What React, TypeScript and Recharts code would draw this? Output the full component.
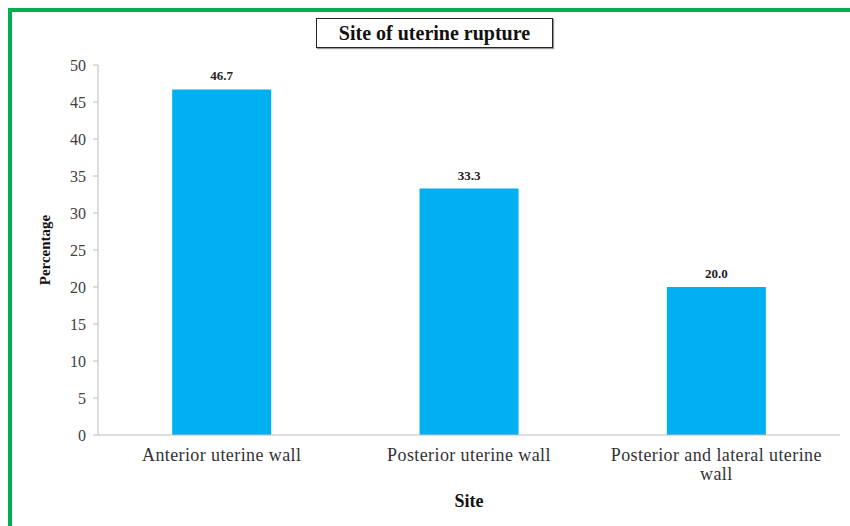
import React from 'react';
import { BarChart, Bar, XAxis, YAxis, LabelList, Label } from 'recharts';

const sites = ['Anterior uterine wall', 'Posterior uterine wall', 'Posterior and lateral uterine wall'];
const percentages = [46.7, 33.3, 20.0];
const yTicks = [0, 5, 10, 15, 20, 25, 30, 35, 40, 45, 50];

const data = sites.map((site, i) => ({ site, value: percentages[i] }));

const serif = '"Liberation Serif", "Times New Roman", serif';
const tickFont = `18px ${serif}`;

// simple word wrap measured with a canvas
const wrapWords = (text: string, maxWidth: number): string[] => {
  const ctx = document.createElement('canvas').getContext('2d');
  if (!ctx) return [text];
  ctx.font = tickFont;
  const lines: string[] = [];
  let line = '';
  text.split(' ').forEach((w) => {
    const next = line ? `${line} ${w}` : w;
    if (line && ctx.measureText(next).width > maxWidth) {
      lines.push(line);
      line = w;
    } else {
      line = next;
    }
  });
  if (line) lines.push(line);
  return lines;
};

const SiteTick = (props: any) => {
  const { x, y, payload } = props;
  const lines = wrapWords(payload.value, 215);
  return (
    <text
      x={x}
      y={y + 4}
      textAnchor="middle"
      fill="#333"
      style={{ fontFamily: serif, fontSize: 18, letterSpacing: 0.4 }}
    >
      {lines.map((l, i) => (
        <tspan key={i} x={x} dy={i === 0 ? '0.8em' : 19}>
          {l}
        </tspan>
      ))}
    </text>
  );
};

const App: React.FC = () => {
  return (
    <div style={{ position: 'fixed', left: 0, top: 0, width: 850, height: 526, overflow: 'hidden', background: '#fff' }}>
      <div
        style={{
          position: 'absolute',
          left: 8,
          top: 8,
          width: 850,
          height: 540,
          border: '4px solid #00b050',
          boxSizing: 'border-box',
        }}
      />
      <div
        style={{
          position: 'absolute',
          left: 316,
          top: 18,
          width: 237,
          height: 30,
          border: '1.5px solid #222',
          boxSizing: 'border-box',
          display: 'flex',
          alignItems: 'center',
          justifyContent: 'center',
          fontFamily: serif,
          fontWeight: 'bold',
          fontSize: 20,
          color: '#111',
          boxShadow: '1px 1px 1px #999',
        }}
      >
        Site of uterine rupture
      </div>
      <div style={{ position: 'absolute', left: 0, top: 0 }}>
        <BarChart width={850} height={526} data={data} margin={{ top: 65, right: 10, bottom: 31, left: 0 }} barCategoryGap="30%">
          <XAxis
            dataKey="site"
            height={60}
            axisLine={{ stroke: '#bdbdbd' }}
            tickLine={false}
            tick={<SiteTick />}
            interval={0}
          >
            <Label
              value="Site"
              position="insideBottom"
              offset={-12}
              style={{ fontFamily: serif, fontWeight: 'bold', fontSize: 18, fill: '#111' }}
            />
          </XAxis>
          <YAxis
            width={98}
            domain={[0, 50]}
            ticks={yTicks}
            interval={0}
            axisLine={{ stroke: '#bdbdbd' }}
            tickLine={{ stroke: '#bdbdbd' }}
            tickSize={5}
            tickMargin={7}
            tick={{ fontFamily: serif, fontSize: 16, fill: '#404040' }}
          >
            <Label
              value="Percentage"
              angle={-90}
              position="insideLeft"
              offset={45}
              style={{ fontFamily: serif, fontWeight: 'bold', fontSize: 15, fill: '#111', textAnchor: 'middle' }}
            />
          </YAxis>
          <Bar dataKey="value" fill="#00b0f0" isAnimationActive={false}>
            <LabelList
              dataKey="value"
              position="top"
              offset={9}
              formatter={(v: any) => Number(v).toFixed(1)}
              style={{ fontFamily: serif, fontWeight: 'bold', fontSize: 13, fill: '#222' }}
            />
          </Bar>
        </BarChart>
      </div>
    </div>
  );
};

export default App;
